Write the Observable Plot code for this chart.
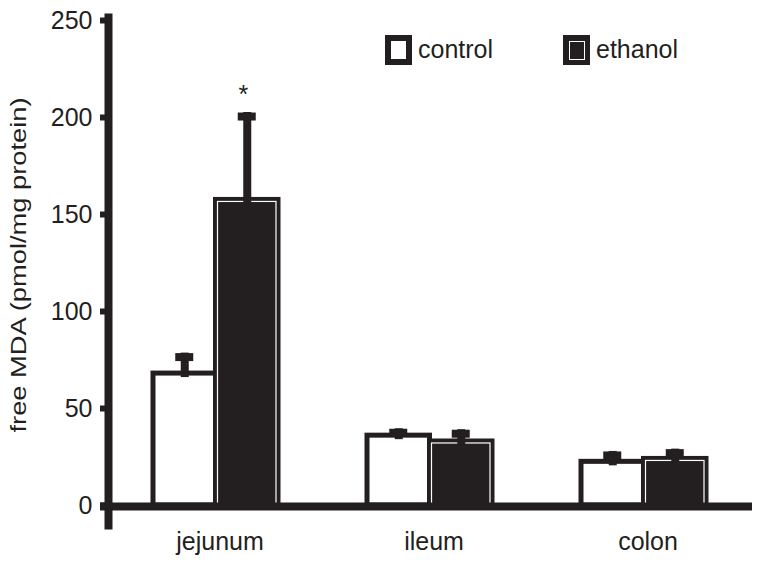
<!DOCTYPE html>
<html><head><meta charset="utf-8">
<script src="https://cdn.jsdelivr.net/npm/d3@7"></script>
<script src="https://cdn.jsdelivr.net/npm/@observablehq/plot@0.6"></script>
<style>
html,body{margin:0;padding:0;background:#fff;}
#wrap{position:relative;width:762px;height:564px;font-family:"Liberation Sans",Arial,Helvetica,sans-serif;color:#231f20;}
.legend{position:absolute;top:35px;display:flex;align-items:center;height:30px;font-size:25px;line-height:30px;}
.legend span{position:relative;top:-1px;}
.box{width:27px;height:30px;box-sizing:border-box;margin-right:6px;flex:none;}
.c{border:6.5px solid #231f20;background:#fff;}
.e{background:#231f20;position:relative;}
.e::after{content:"";position:absolute;left:5.5px;top:5.5px;right:5.5px;bottom:5.5px;border:1px solid #fff;}
svg{display:block;}
</style></head><body><div id="wrap"></div>
<script>
const categories = ["jejunum", "ileum", "colon"];
const controlMean = [68, 36, 22.5];
const controlErr = [8.5, 1.5, 3.3];
const ethanolMean = [157.5, 33, 24];
const ethanolErr = [43, 4, 3];
const yTicks = [0, 50, 100, 150, 200, 250];
const yLabel = "free MDA (pmol/mg protein)";
const significant = ["jejunum"];
const legendItems = ["control", "ethanol"];

const rows = categories.map((c, i) => ({
  category: c,
  control: controlMean[i], controlErr: controlErr[i],
  ethanol: ethanolMean[i], ethanolErr: ethanolErr[i]
}));

const ink = "#231f20";
const font = "'Liberation Sans', Arial, Helvetica, sans-serif";
const half = 62.5;      // half of group band width in px
const stemOff = 31.25;  // offset of each bar's centre from group centre
const capIn = 22.25;    // cap inset inside own half

const plot = Plot.plot({
  width: 762, height: 564,
  marginLeft: 108, marginRight: 12, marginTop: 20, marginBottom: 59,
  style: {fontFamily: font, color: ink, background: "white", overflow: "visible"},
  x: {domain: categories, paddingInner: 0.416, paddingOuter: 0.208, label: null},
  y: {domain: [0, 250], label: null},
  marks: [
    Plot.barY(rows, {x: "category", y: "control", fill: "white", stroke: ink, strokeWidth: 5, insetRight: half}),
    Plot.barY(rows, {x: "category", y: "ethanol", fill: ink, stroke: ink, strokeWidth: 5, insetLeft: half}),
    Plot.barY(rows, {x: "category", y: "ethanol", fill: "none", stroke: "white", strokeWidth: 1.2,
      insetLeft: half + 2, insetRight: 2, insetTop: 2, insetBottom: -3}),
    Plot.ruleX(rows, {x: "category", y1: "control", y2: d => d.control + d.controlErr, dx: -stemOff,
      stroke: ink, strokeWidth: 8, strokeLinecap: "square"}),
    Plot.ruleX(rows, {x: "category", y1: "ethanol", y2: d => d.ethanol + d.ethanolErr, dx: stemOff,
      stroke: ink, strokeWidth: 8, strokeLinecap: "square"}),
    Plot.tickY(rows, {x: "category", y: d => d.control + d.controlErr, stroke: ink, strokeWidth: 8,
      insetLeft: capIn, insetRight: half + capIn}),
    Plot.tickY(rows, {x: "category", y: d => d.ethanol + d.ethanolErr, stroke: ink, strokeWidth: 8,
      insetLeft: half + capIn, insetRight: capIn}),
    Plot.ruleY([0], {stroke: ink, strokeWidth: 8, dy: 1, insetLeft: -8, insetRight: -2}),
    Plot.frame({anchor: "left", stroke: ink, strokeWidth: 8, insetTop: -3, insetBottom: -20}),
    Plot.axisY({ticks: yTicks, tickSize: 8, tickPadding: 8, strokeWidth: 6, fontSize: 25, label: null}),
    Plot.text([yLabel], {frameAnchor: "left", rotate: -90, dx: -98, dy: 2, lineAnchor: "top",
      textAnchor: "middle", fontSize: 22, fill: ink, className: "ylab"}),
    Plot.axisX({tickSize: 0, tickPadding: 27, fontSize: 25, dx: 4, label: null}),
    Plot.text(rows.filter(d => significant.includes(d.category)), {
      x: "category", y: d => d.ethanol + d.ethanolErr, text: () => "*",
      dx: stemOff - 4, dy: -14, lineAnchor: "bottom", fontSize: 25, fill: ink})
  ]
});

// the original's axis title is typeset stretched along its length
plot.querySelectorAll(".ylab text").forEach(t => {
  t.setAttribute("textLength", 335);
  t.setAttribute("lengthAdjust", "spacingAndGlyphs");
});

const wrap = document.getElementById("wrap");
wrap.appendChild(plot);

const lefts = [385, 563];
legendItems.forEach((name, i) => {
  const d = document.createElement("div");
  d.className = "legend";
  d.style.left = lefts[i] + "px";
  const b = document.createElement("div");
  b.className = "box " + (i === 0 ? "c" : "e");
  const s = document.createElement("span");
  s.textContent = name;
  d.appendChild(b); d.appendChild(s);
  wrap.appendChild(d);
});
</script>
</body></html>
